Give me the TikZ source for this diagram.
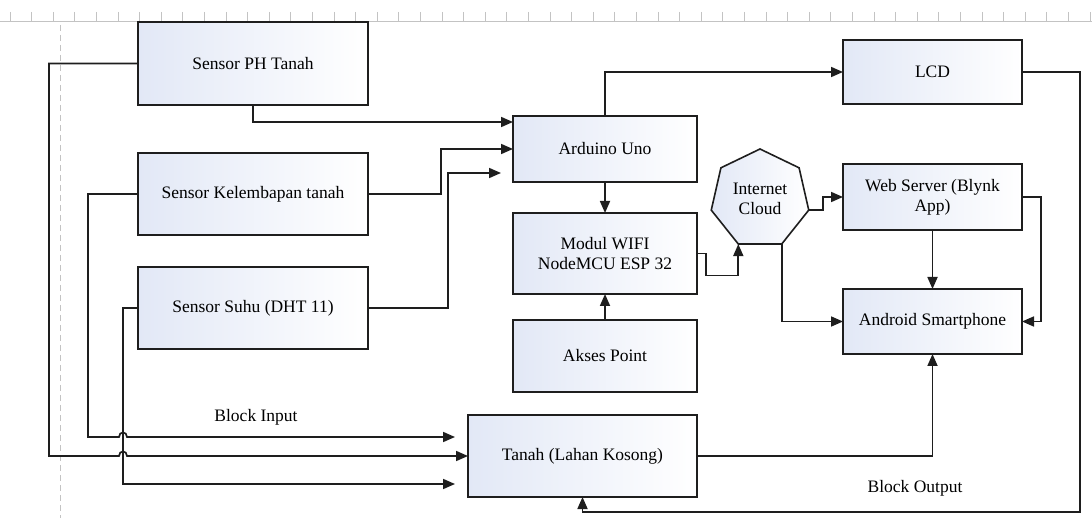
\documentclass[tikz,border=0pt]{standalone}
\usepackage{fontspec}
\setmainfont{Liberation Serif}
\newfontfamily\diagfont{Liberation Serif}
\usetikzlibrary{arrows.meta,shapes.geometric}
\definecolor{linec}{RGB}{30,30,30}
\definecolor{boxblue}{RGB}{226,232,246}
\definecolor{rulec}{RGB}{195,195,195}
\begin{document}
\begin{tikzpicture}[x=1pt,y=-1pt,
  box/.style={draw=linec,line width=1.6pt,left color=boxblue,right color=white,
    inner sep=0pt,outer sep=0pt,align=center,font=\diagfont\fontsize{17.5}{20}\selectfont},
  cloudshape/.style={draw=linec,line width=1.6pt,left color=boxblue,right color=white,
    regular polygon,regular polygon sides=7,minimum size=100pt,inner sep=0pt,outer sep=0pt,
    align=center,font=\diagfont\fontsize{17.5}{20}\selectfont},
  lbl/.style={font=\diagfont\fontsize{17.5}{20}\selectfont,inner sep=0pt},
  conn/.style={draw=linec,line width=1.7pt},
  arr/.style={conn,-{Triangle[length=12pt,width=10pt]}}]
\useasboundingbox (0,0) rectangle (1092,518);
% ruler and margin guide
\draw[rulec,line width=0.8pt] (0,21) -- (1092,21);
\foreach \i in {0,...,50} \draw[rulec,line width=0.8pt] (10+\i*21.6,12) -- (10+\i*21.6,21);
\draw[rulec,line width=1pt,dash pattern=on 6pt off 4pt] (60,25) -- (60,518);
% boxes
\node[box,minimum width=230pt,minimum height=83pt] (ph) at (253,63.5) {Sensor PH Tanah};
\node[box,minimum width=230pt,minimum height=82pt] (kel) at (253,194) {Sensor Kelembapan tanah};
\node[box,minimum width=230pt,minimum height=82pt] (suhu) at (253,308) {Sensor Suhu (DHT 11)};
\node[box,minimum width=184pt,minimum height=66pt] (ard) at (605,149) {Arduino Uno};
\node[box,minimum width=184pt,minimum height=81pt] (wifi) at (605,253.5) {Modul WIFI\\NodeMCU ESP 32};
\node[box,minimum width=184pt,minimum height=72pt] (akses) at (605,356) {Akses Point};
\node[box,minimum width=179pt,minimum height=64pt] (lcd) at (932.5,72) {LCD};
\node[box,minimum width=179pt,minimum height=66pt] (web) at (932.5,197) {Web Server (Blynk\\App)};
\node[box,minimum width=179pt,minimum height=65pt] (andr) at (932.5,321.5) {Android Smartphone};
\node[box,minimum width=229pt,minimum height=82pt] (tanah) at (582.5,456) {Tanah (Lahan Kosong)};
\node[cloudshape] (cloud) at (760,199) {Internet\\Cloud};
% labels
\node[lbl] (bi) at (256,417) {Block Input};
\node[lbl] (bo) at (915,488) {Block Output};
% coordinates
\coordinate (phx) at (49,63.5);
\coordinate (kelx) at (88,194);
\coordinate (suhux) at (123,308);
\coordinate (kin) at (455,437);
\coordinate (sin) at (455,484);
\coordinate (br) at (1080,512);
% connectors to Arduino / LCD
\draw[arr] (ard.north) |- (lcd.west);
\draw[arr] (ph.south) |- ([yshift=27pt]ard.west);
\draw[arr] (kel.east) -- ++(73,0) |- (ard.west);
\draw[arr,shorten >=12pt] (suhu.east) -- ++(80,0) |- ([yshift=-24pt]ard.west);
\draw[arr] (ard.south) -- (wifi.north);
\draw[arr] (akses.north) -- (wifi.south);
\draw[arr] (wifi.east) -- ++(9,0) -- ++(0,22) -| (cloud.corner 4);
\draw[arr] (cloud.corner 6) -- ++(14,0) |- (web.west);
\draw[arr] (cloud.corner 5) |- (andr.west);
\draw[arr] (web.south) -- (andr.north);
\draw[arr] (web.east) -- ++(19,0) |- (andr.east);
\draw[arr] (lcd.east) -| (br) -| (tanah.south);
\draw[arr] (tanah.east) -| (andr.south);
% inputs to Tanah
\draw[arr] (ph.west) -- (phx) |- (119,456) .. controls (119,450) and (127,450) .. (127,456) -- (tanah.west);
\draw[arr] (kel.west) -- (kelx) |- (119,437) .. controls (119,431) and (127,431) .. (127,437) -- (kin);
\draw[arr] (suhu.west) -- (suhux) |- (sin);
\end{tikzpicture}
\end{document}
